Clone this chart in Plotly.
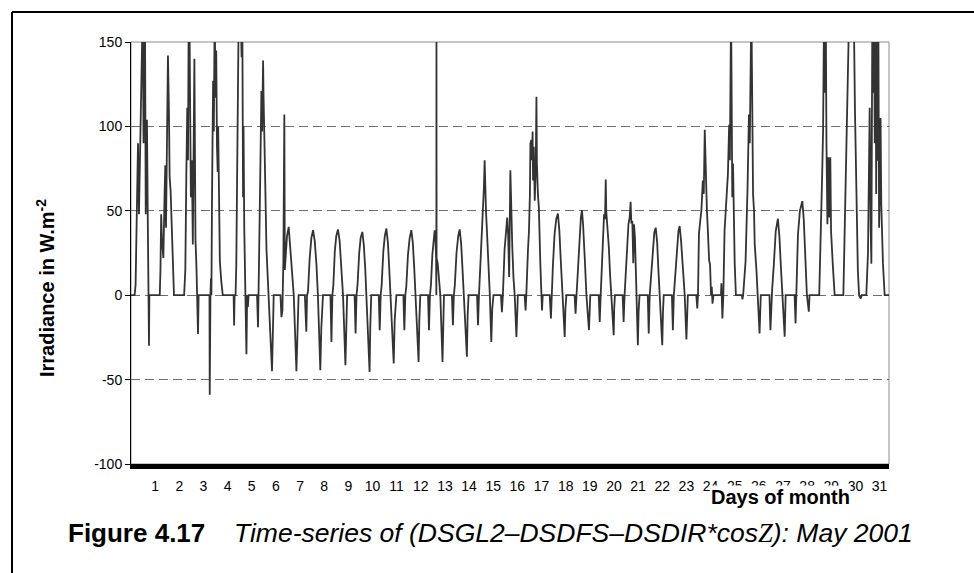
import plotly.graph_objects as go

# vertices: (time in days from 1 May 00:00, irradiance W/m2)
week1 = [
    (0.00, 0), (0.15, 0), (0.19, 6), (0.23, 34), (0.25, 54), (0.29, 90), (0.33, 48),
    (0.39, 97), (0.43, 165), (0.485, 170), (0.52, 90), (0.55, 165), (0.58, 160),
    (0.61, 48), (0.66, 104), (0.70, 38), (0.73, 10), (0.745, -30), (0.76, 0),
    (1.19, 0), (1.22, 15), (1.25, 48), (1.28, 33), (1.34, 22), (1.39, 60), (1.42, 77),
    (1.45, 40), (1.50, 103), (1.53, 142), (1.57, 110), (1.60, 70), (1.64, 62),
    (1.70, 38), (1.74, 15), (1.78, 0),
    (2.20, 0), (2.25, 15), (2.29, 70), (2.33, 111), (2.36, 80), (2.39, 170), (2.42, 168),
    (2.45, 109), (2.48, 58), (2.52, 80), (2.56, 30), (2.625, 140), (2.645, 64),
    (2.67, 33), (2.71, 17), (2.75, 0), (2.775, -23), (2.80, 0),
    (3.25, 0), (3.26, -59), (3.27, 0),
    (3.29, 0), (3.31, 10), (3.33, 0), (3.355, 58), (3.40, 127), (3.43, 97), (3.465, 170),
    (3.50, 117), (3.53, 145), (3.56, 88), (3.59, 73), (3.61, 100), (3.64, 50),
    (3.68, 20), (3.74, 8), (3.80, 0),
    (4.25, 0), (4.27, -18), (4.29, 0),
    (4.33, 0), (4.36, 18), (4.40, 78), (4.43, 127), (4.46, 168), (4.50, 172), (4.54, 170),
    (4.58, 141), (4.61, 165), (4.64, 58), (4.66, 100), (4.69, 40), (4.72, 15), (4.75, 0),
    (4.78, -35), (4.81, 0), (4.84, -7), (4.87, 0),
    (5.22, 0), (5.26, -19), (5.29, 0), (5.32, 38), (5.36, 78), (5.40, 121), (5.43, 97),
    (5.47, 139), (5.49, 117), (5.52, 78), (5.56, 66), (5.61, 27), (5.70, 0),
    (5.84, -45), (5.91, 0),
    (6.19, 0), (6.23, -13), (6.27, -9), (6.31, 20), (6.35, 107), (6.37, 15), (6.41, 22),
    (6.46, 35), (6.53, 40.5), (6.64, 17), (6.74, 0), (6.85, -45), (6.94, 0),
]

week2 = [
    (7.20, 0), (7.26, -21.7), (7.29, 0), (7.33, 2), (7.40, 22), (7.47, 34), (7.54, 38.5),
    (7.61, 32), (7.68, 18), (7.74, 0), (7.84, -44.5), (7.88, -20), (7.95, 0),
    (8.26, 0), (8.30, -27.7), (8.34, 0), (8.38, 6), (8.44, 26), (8.50, 35), (8.57, 39),
    (8.64, 32), (8.71, 17), (8.78, 0), (8.88, -41.5), (8.92, -15), (8.95, 0),
    (9.26, 0), (9.30, -22.7), (9.34, 0), (9.38, 6), (9.45, 25), (9.51, 34), (9.58, 37.5),
    (9.64, 30), (9.70, 16), (9.75, 0), (9.88, -45.5), (9.91, -18), (9.95, 0),
    (10.26, 0), (10.30, -20.7), (10.34, 0), (10.38, 6), (10.45, 26), (10.51, 35),
    (10.575, 39.5), (10.64, 31), (10.69, 17), (10.74, 0), (10.88, -40.5), (10.92, -15),
    (10.99, 0),
    (11.28, 0), (11.32, -20.7), (11.36, 0), (11.40, 5), (11.47, 24), (11.54, 34),
    (11.61, 38.5), (11.67, 31), (11.73, 16), (11.79, 0), (11.91, -39.5), (11.94, -15),
    (11.98, 0),
    (12.30, 0), (12.34, -20.7), (12.38, 0), (12.42, 6), (12.48, 24), (12.53, 34),
    (12.575, 38.5), (12.61, 32), (12.635, 22), (12.645, 0), (12.65, 165), (12.655, 22),
    (12.70, 19), (12.74, 12), (12.81, 0), (12.90, -39.5), (12.93, -15), (12.96, 0),
    (13.29, 0), (13.33, -17.8), (13.37, 0), (13.41, 6), (13.48, 25), (13.55, 35),
    (13.61, 39), (13.67, 31), (13.73, 15), (13.78, 0), (13.91, -36.5), (13.94, -12),
    (13.98, 0),
]

week3 = [
    (14.33, 0), (14.37, -17.8), (14.41, 0), (14.46, 15), (14.52, 35), (14.58, 55),
    (14.615, 64), (14.645, 80), (14.67, 58), (14.70, 50), (14.74, 38), (14.80, 20),
    (14.86, 0), (14.92, -27.7), (14.96, -8), (15.01, 0),
    (15.32, 0), (15.36, -10), (15.40, 0), (15.47, 27), (15.54, 40), (15.58, 46),
    (15.62, 35), (15.66, 10.8), (15.71, 74), (15.74, 48), (15.79, 28.5), (15.84, 10),
    (15.89, 0), (15.96, -24.7), (15.99, -8), (16.02, 0),
    (16.30, 0), (16.34, -9), (16.37, 0), (16.40, 20), (16.44, 27), (16.48, 38),
    (16.52, 60), (16.54, 90), (16.58, 92), (16.61, 80), (16.63, 97), (16.65, 68),
    (16.68, 88), (16.72, 56), (16.76, 75), (16.79, 117.5), (16.81, 78), (16.85, 60),
    (16.89, 52), (16.95, 19), (16.99, 0), (17.02, -9), (17.05, 0),
    (17.34, 0), (17.39, -13.8), (17.42, 0), (17.47, 17), (17.54, 36), (17.61, 45),
    (17.68, 48.4), (17.74, 38), (17.80, 20), (17.86, 0), (17.96, -24.7), (17.99, -8),
    (18.03, 0),
    (18.37, 0), (18.41, -10.9), (18.45, 0), (18.50, 14), (18.57, 35), (18.63, 46),
    (18.675, 50.4), (18.72, 42), (18.79, 22), (18.86, 0), (18.965, -20.7), (18.99, -6),
    (19.02, 0),
    (19.37, 0), (19.41, -15.8), (19.45, 0), (19.52, 27), (19.59, 48), (19.63, 45),
    (19.66, 68.6), (19.68, 50), (19.71, 44.5), (19.75, 38), (19.79, 28), (19.84, 12),
    (19.89, 0), (19.99, -23.7), (20.01, -8), (20.04, 0),
    (20.36, 0), (20.40, -15.8), (20.44, 0), (20.49, 15), (20.54, 32.6), (20.60, 42),
    (20.65, 46), (20.69, 55.3), (20.72, 42.5), (20.76, 44), (20.80, 19), (20.83, 42),
    (20.87, 34), (20.91, 12), (20.95, 0), (20.99, -29.6), (21.02, -10), (21.06, 0),
]

week4 = [
    (21.40, 0), (21.44, -22.7), (21.48, 0), (21.53, 10), (21.60, 28), (21.67, 37),
    (21.73, 40), (21.79, 31), (21.84, 15), (21.89, 0), (22.00, -29.6), (22.03, -10),
    (22.06, 0),
    (22.40, 0), (22.44, -20.7), (22.48, 0), (22.53, 10), (22.60, 28), (22.67, 38),
    (22.72, 41), (22.78, 32), (22.86, 15), (22.93, 0), (23.00, -26.3), (23.03, -9),
    (23.06, 0),
    (23.41, 0), (23.45, -7.9), (23.48, 0), (23.52, 36.5), (23.58, 45), (23.62, 50),
    (23.68, 68), (23.72, 60), (23.76, 98), (23.80, 72), (23.85, 50), (23.89, 38),
    (23.94, 20.7), (23.98, 18), (24.02, 0), (24.05, 5), (24.08, -5), (24.12, 0),
    (24.43, 0), (24.45, 7), (24.49, -13.8),
    (24.53, 0), (24.58, 38), (24.65, 55), (24.72, 72), (24.77, 101), (24.80, 80),
    (24.85, 172), (24.88, 120), (24.90, 58), (24.93, 78), (24.97, 40), (25.00, 18.7),
    (25.05, 0),
    (25.30, 0), (25.32, -2.5), (25.35, 0), (25.45, 20), (25.49, 38), (25.53, 62),
    (25.59, 107), (25.625, 90), (25.69, 172), (25.72, 95), (25.76, 60), (25.80, 50),
    (25.83, 30), (25.90, 15), (25.96, 0), (26.03, -22.6), (26.08, 0),
    (26.44, 0), (26.48, -20.7), (26.52, 0), (26.55, 3), (26.62, 18), (26.70, 38),
    (26.79, 45.3), (26.85, 35), (26.92, 15), (26.98, 0), (27.07, -24.6), (27.11, 0),
    (27.48, 0), (27.52, -16.7), (27.56, 0), (27.58, 10), (27.62, 36), (27.70, 50),
    (27.80, 55.7), (27.86, 45), (27.93, 20), (27.99, 0), (28.07, -9.8), (28.10, 0),
]

week5 = [
    (28.50, 0), (28.55, 38), (28.62, 70), (28.66, 97.5), (28.70, 168), (28.74, 120),
    (28.77, 172), (28.80, 90), (28.84, 42), (28.88, 81.7), (28.92, 46), (28.96, 81.7),
    (28.99, 38), (29.06, 18.7), (29.14, 0),
    (29.50, 0), (29.55, 38), (29.62, 90), (29.68, 135), (29.75, 175), (29.84, 190),
    (29.93, 170), (29.98, 110), (30.05, 45), (30.10, 15), (30.15, 0), (30.22, -2),
    (30.26, 0),
    (30.45, 0), (30.52, 25), (30.59, 111), (30.63, 40), (30.66, 18.7), (30.70, 170),
    (30.74, 120), (30.77, 175), (30.80, 90), (30.83, 170), (30.86, 60), (30.89, 165),
    (30.92, 79.7), (30.95, 160), (30.98, 40), (31.00, 58), (31.04, 105), (31.07, 54),
    (31.14, 18.7), (31.21, 0), (31.39, 0),
]

day_ticks = list(range(1, 32))
y_ticks = [-100, -50, 0, 50, 100, 150]
y_labels = ["-100", "-50", "0", "50", "100", "150"]

points = week1 + week2 + week3 + week4 + week5
t = [p[0] for p in points]
v = [p[1] for p in points]

W, H = 974, 573
L, R, T, B = 131, 85, 42, 109
pw, ph = W - L - R, H - T - B


def px_x(p):
    return (p - L) / pw


def px_y(p):
    return (H - B - p) / ph


font = "Liberation Sans, Arial, sans-serif"

fig = go.Figure()
fig.add_trace(
    go.Scatter(
        x=t,
        y=v,
        mode="lines",
        line={"color": "#333333", "width": 1.8},
        showlegend=False,
        hoverinfo="skip",
    )
)

fig.update_layout(
    width=W,
    height=H,
    margin={"l": L, "r": R, "t": T, "b": B},
    paper_bgcolor="white",
    plot_bgcolor="white",
    font={"family": font, "color": "black", "size": 14},
    showlegend=False,
)
fig.update_xaxes(
    range=[0, 31.39],
    tickvals=day_ticks,
    ticktext=[str(d) for d in day_ticks],
    ticks="",
    ticklabelstandoff=5,
    showgrid=False,
    zeroline=False,
    showline=True,
    linecolor="black",
    linewidth=5,
    automargin=False,
    tickfont={"size": 14},
)
fig.update_yaxes(
    range=[-100, 150],
    tickvals=y_ticks,
    ticktext=y_labels,
    ticks="outside",
    ticklen=5,
    tickcolor="black",
    showgrid=True,
    gridcolor="#6e6e6e",
    griddash="9px,5px",
    gridwidth=1,
    zeroline=False,
    showline=True,
    linecolor="black",
    linewidth=1,
    automargin=False,
    tickfont={"size": 14},
)

# plot area border and outer frame
fig.add_shape(type="rect", xref="paper", yref="paper", x0=0, x1=1, y0=0, y1=1,
              line={"color": "#8c8c8c", "width": 1}, layer="between")
fig.add_shape(type="line", xref="paper", yref="paper",
              x0=px_x(12), x1=px_x(12), y0=px_y(H), y1=px_y(12),
              line={"color": "black", "width": 2})
fig.add_shape(type="line", xref="paper", yref="paper",
              x0=px_x(12), x1=px_x(W), y0=px_y(12), y1=px_y(12),
              line={"color": "black", "width": 2})

fig.add_annotation(
    text="<b>Irradiance in W.m<sup>-2</sup></b>",
    xref="paper", yref="paper", x=px_x(45), y=px_y(288),
    xanchor="center", yanchor="middle",
    textangle=-90, showarrow=False, font={"size": 20},
)
fig.add_annotation(
    text="<b>Days of month</b>",
    xref="paper", yref="paper", x=px_x(780), y=px_y(485),
    xanchor="center", yanchor="top", showarrow=False,
    bgcolor="white", borderpad=0, font={"size": 20},
)
fig.add_annotation(
    text="<b>Figure 4.17</b>",
    xref="paper", yref="paper", x=px_x(207), y=px_y(533),
    xanchor="right", yanchor="middle", showarrow=False, font={"size": 26},
)
fig.add_annotation(
    text="<i>Time-series of (DSGL2–DSDFS–DSDIR*cos"
         "<span style='font-family:Liberation Serif'>Z</span>): May 2001</i>",
    xref="paper", yref="paper", x=px_x(232), y=px_y(533),
    xanchor="left", yanchor="middle", showarrow=False, font={"size": 26.5},
)

fig.write_html(
    "out.html",
    config={"displayModeBar": False, "staticPlot": True},
    post_script="document.body.style.margin='0px';",
)
